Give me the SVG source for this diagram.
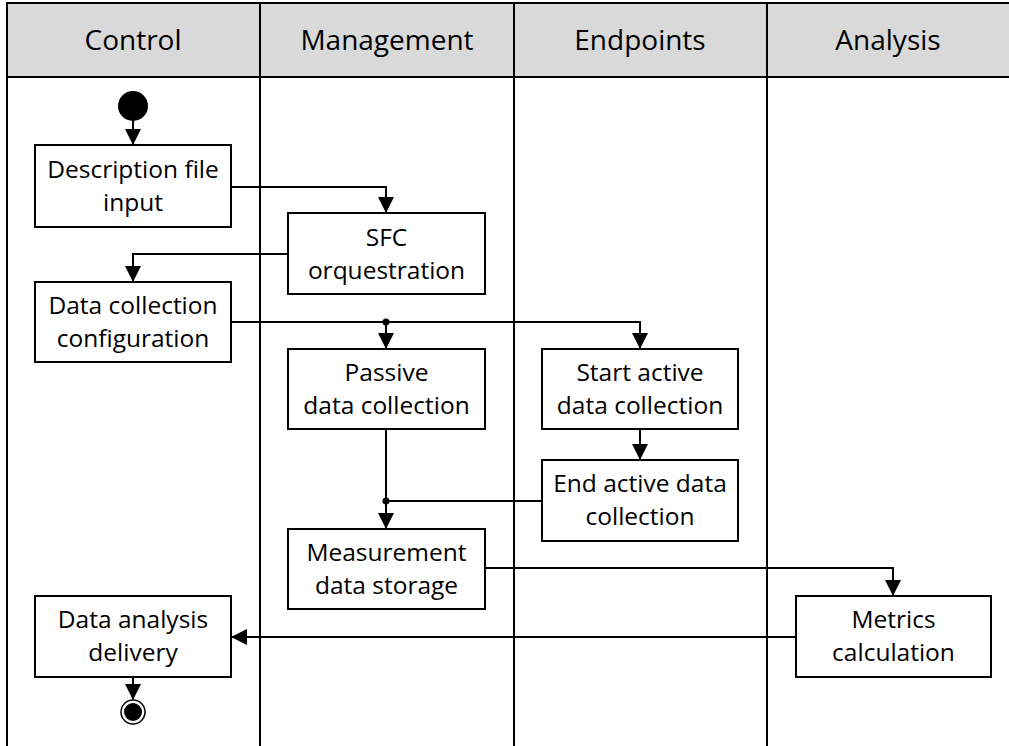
<svg xmlns="http://www.w3.org/2000/svg" width="1009" height="746" viewBox="0 0 1009 746">
<style>
.lane{stroke:#000;stroke-width:2;fill:none}
.hdr{font-family:"Open Sans","Liberation Sans",sans-serif;font-size:28px;fill:#000;text-anchor:middle}
.box{fill:#fff;stroke:#000;stroke-width:2}
.t{font-family:"Open Sans","Liberation Sans",sans-serif;font-size:24.5px;fill:#000;text-anchor:middle}
.c{stroke:#000;stroke-width:2;fill:none}
</style>
<defs>
<marker id="ah" markerUnits="userSpaceOnUse" markerWidth="16" markerHeight="16" viewBox="0 0 16 16" refX="15" refY="8" orient="auto">
<path d="M0,0 L16,8 L0,16 Z" fill="#000"/>
</marker>
</defs>
<rect width="1009" height="746" fill="#fff"/>
<g id="lanes">
<rect x="7" y="3" width="1010" height="74" fill="#d9d9d9" stroke="#000" stroke-width="2"/>
<line class="lane" x1="7" y1="3" x2="7" y2="746"/>
<line class="lane" x1="260" y1="3" x2="260" y2="746"/>
<line class="lane" x1="514" y1="3" x2="514" y2="746"/>
<line class="lane" x1="767" y1="3" x2="767" y2="746"/>
<text class="hdr" x="133" y="50">Control</text>
<text class="hdr" x="387" y="50">Management</text>
<text class="hdr" x="640" y="50">Endpoints</text>
<text class="hdr" x="888" y="50">Analysis</text>
</g>
<g id="connectors">
<path class="c" d="M133,120 V144" marker-end="url(#ah)"/>
<path class="c" d="M231,187 H386 V212" marker-end="url(#ah)"/>
<path class="c" d="M288,254 H133 V281" marker-end="url(#ah)"/>
<path class="c" d="M231,322 H640 V348" marker-end="url(#ah)"/>
<path class="c" d="M386,322 V348" marker-end="url(#ah)"/>
<circle cx="386" cy="322" r="3.5" fill="#000"/>
<path class="c" d="M640,429 V459" marker-end="url(#ah)"/>
<path class="c" d="M386,429 V528" marker-end="url(#ah)"/>
<path class="c" d="M542,501 H386"/>
<circle cx="386" cy="501" r="3.5" fill="#000"/>
<path class="c" d="M485,568 H893 V595" marker-end="url(#ah)"/>
<path class="c" d="M796,637 H232" marker-end="url(#ah)"/>
<path class="c" d="M133,677 V699" marker-end="url(#ah)"/>
</g>
<g id="start"><circle cx="133" cy="106" r="15" fill="#000"/></g>
<g id="end"><circle cx="133" cy="712" r="12" fill="#fff" stroke="#000" stroke-width="1.5"/><circle cx="133" cy="712" r="9" fill="#000"/></g>
<g id="n1"><rect class="box" x="35" y="145" width="196" height="82"/><text class="t" x="133" y="178">Description file</text><text class="t" x="133" y="211">input</text></g>
<g id="n2"><rect class="box" x="288" y="213" width="197" height="81"/><text class="t" x="386.5" y="246">SFC</text><text class="t" x="386.5" y="279">orquestration</text></g>
<g id="n3"><rect class="box" x="35" y="282" width="196" height="80"/><text class="t" x="133" y="314">Data collection</text><text class="t" x="133" y="347">configuration</text></g>
<g id="n4"><rect class="box" x="288" y="349" width="197" height="80"/><text class="t" x="386.5" y="381">Passive</text><text class="t" x="386.5" y="414">data collection</text></g>
<g id="n5"><rect class="box" x="542" y="349" width="196" height="80"/><text class="t" x="640" y="381">Start active</text><text class="t" x="640" y="414">data collection</text></g>
<g id="n6"><rect class="box" x="542" y="460" width="196" height="81"/><text class="t" x="640" y="492">End active data</text><text class="t" x="640" y="525">collection</text></g>
<g id="n7"><rect class="box" x="288" y="529" width="197" height="80"/><text class="t" x="386.5" y="561">Measurement</text><text class="t" x="386.5" y="594">data storage</text></g>
<g id="n8"><rect class="box" x="796" y="596" width="195" height="81"/><text class="t" x="893.5" y="628">Metrics</text><text class="t" x="893.5" y="661">calculation</text></g>
<g id="n9"><rect class="box" x="35" y="596" width="196" height="81"/><text class="t" x="133" y="628">Data analysis</text><text class="t" x="133" y="661">delivery</text></g>
</svg>
